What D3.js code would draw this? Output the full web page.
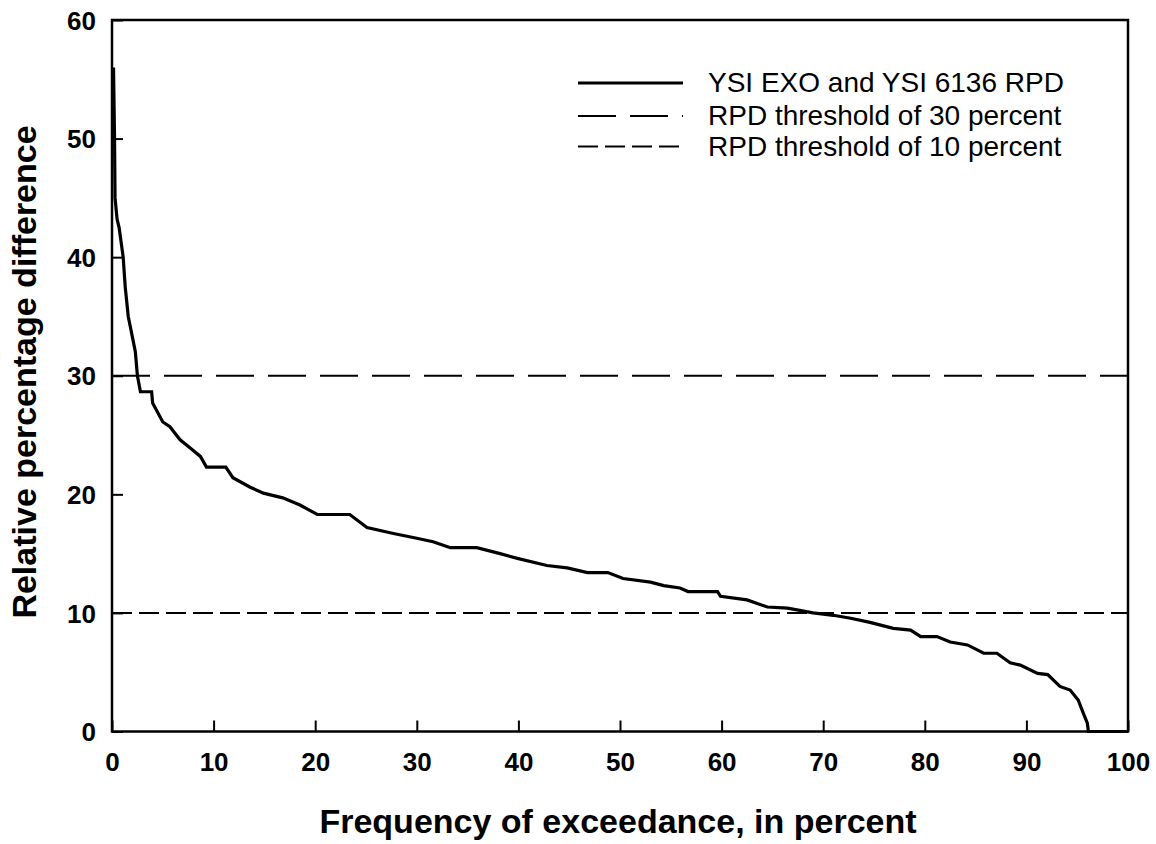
<!DOCTYPE html>
<html>
<head>
<meta charset="utf-8">
<script src="https://cdn.jsdelivr.net/npm/d3@7/dist/d3.min.js"></script>
<style>
  html, body { margin: 0; padding: 0; background: #fff; }
  svg { display: block; }
  text { font-family: "Liberation Sans", Arial, sans-serif; fill: #000; }
</style>
</head>
<body>
<svg id="chart" width="1156" height="844"></svg>
<script>
// ---- data ----
const exceedance = [0.15, 0.25, 0.3, 0.5, 0.7, 1.1, 1.3, 1.6, 2.0, 2.3, 2.5, 2.8, 3.9, 4.0, 5.0, 5.7, 6.7, 7.7, 8.7, 9.3, 11.2, 11.9, 13.6, 14.9, 16.8, 18.5, 20.2, 23.4, 25.1, 27.7, 30.0, 31.6, 33.3, 35.9, 38.2, 39.9, 42.8, 44.8, 46.8, 48.8, 50.3, 53.0, 54.3, 55.9, 56.7, 59.6, 59.9, 62.5, 64.5, 66.5, 69.0, 71.0, 72.7, 74.6, 76.9, 78.6, 79.6, 81.2, 82.5, 84.2, 85.8, 87.1, 88.4, 89.4, 91.1, 92.1, 93.3, 94.3, 95.1, 95.6, 96.0, 96.1, 100];
const rpd =        [56.0, 50.0, 45.0, 43.2, 42.5, 40.0, 37.5, 35.0, 33.3, 32.0, 30.0, 28.65, 28.65, 27.7, 26.1, 25.7, 24.6, 23.9, 23.2, 22.3, 22.3, 21.4, 20.6, 20.1, 19.7, 19.1, 18.3, 18.3, 17.2, 16.7, 16.3, 16.0, 15.5, 15.5, 15.0, 14.6, 14.0, 13.8, 13.4, 13.4, 12.9, 12.6, 12.3, 12.1, 11.8, 11.8, 11.4, 11.1, 10.5, 10.4, 10.0, 9.8, 9.55, 9.2, 8.7, 8.55, 8.0, 8.0, 7.55, 7.3, 6.6, 6.6, 5.8, 5.6, 4.9, 4.8, 3.8, 3.5, 2.65, 1.55, 0.7, 0, 0];
const thresholds = [30, 10];
const xTicks = [0, 10, 20, 30, 40, 50, 60, 70, 80, 90, 100];
const yTicks = [0, 10, 20, 30, 40, 50, 60];
const legendLabels = ["YSI EXO and YSI 6136 RPD", "RPD threshold of 30 percent", "RPD threshold of 10 percent"];
const xTitle = "Frequency of exceedance, in percent";
const yTitle = "Relative percentage difference";

// ---- layout ----
const L = 112, R = 1128, T = 20, B = 731.5;
const svg = d3.select("#chart");
const x = d3.scaleLinear().domain([0, 100]).range([L, R]);
const y = d3.scaleLinear().domain([0, 60]).range([B, T]);

const dashStyles = ["38,14", "20,7"];

// threshold lines
thresholds.forEach((t, i) => {
  svg.append("line")
    .attr("x1", x(0)).attr("x2", x(100))
    .attr("y1", y(t)).attr("y2", y(t))
    .attr("stroke", "#000").attr("stroke-width", 2)
    .attr("stroke-dasharray", dashStyles[i]);
});

// curve
const line = d3.line().x((d, i) => x(exceedance[i])).y((d, i) => y(rpd[i]));
svg.append("path")
  .attr("d", line(rpd))
  .attr("fill", "none").attr("stroke", "#000").attr("stroke-width", 3.2)
  .attr("stroke-linejoin", "miter");

// axes (inward ticks)
const tickFont = '"Liberation Sans", Arial, sans-serif';
const xAxis = d3.axisBottom(x).tickValues(xTicks).tickSizeInner(-11).tickSizeOuter(0).tickFormat(d3.format("d"));
const gx = svg.append("g").attr("transform", `translate(0,${B})`).call(xAxis);
gx.select(".domain").remove();
gx.selectAll(".tick line").attr("stroke-width", 2);
gx.selectAll(".tick text").attr("y", 39.5).attr("dy", 0)
  .style("font-size", "26px").style("font-weight", "bold").style("font-family", tickFont);

const yAxis = d3.axisLeft(y).tickValues(yTicks).tickSizeInner(-11).tickSizeOuter(0).tickFormat(d3.format("d"));
const gy = svg.append("g").attr("transform", `translate(${L},0)`).call(yAxis);
gy.select(".domain").remove();
gy.selectAll(".tick line").attr("stroke-width", 2);
gy.selectAll(".tick text").attr("x", -16).attr("dy", "0.35em")
  .style("font-size", "26px").style("font-weight", "bold").style("font-family", tickFont);

// frame
svg.append("rect").attr("x", L).attr("y", T).attr("width", R - L).attr("height", B - T)
  .attr("fill", "none").attr("stroke", "#000").attr("stroke-width", 2.5);

// titles
svg.append("text").attr("x", 618).attr("y", 833).attr("text-anchor", "middle")
  .style("font-size", "34px").style("font-weight", "bold").text(xTitle);
svg.append("text").attr("transform", `translate(36,${372}) rotate(-90)`).attr("text-anchor", "middle")
  .style("font-size", "34px").style("font-weight", "bold").text(yTitle);

// legend
const legY = [83, 116, 146.5];
const legDash = [null, "38,14", "20,7"];
legendLabels.forEach((lab, i) => {
  svg.append("line").attr("x1", 578).attr("x2", 683).attr("y1", legY[i]).attr("y2", legY[i])
    .attr("stroke", "#000").attr("stroke-width", i === 0 ? 3.2 : 2)
    .attr("stroke-dasharray", legDash[i]);
  svg.append("text").attr("x", 708).attr("y", legY[i] + 9)
    .style("font-size", "28px").text(lab);
});
</script>
</body>
</html>
